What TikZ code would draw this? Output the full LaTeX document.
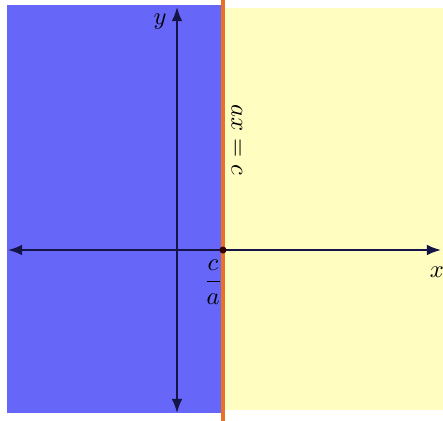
\documentclass[tikz,border=0pt]{standalone}
\usepackage{amsmath}
\usetikzlibrary{calc, positioning}
\usetikzlibrary{arrows.meta}
\definecolor{halfblue}{RGB}{102,102,248}
\definecolor{halfyellow}{RGB}{255,253,192}
\definecolor{edgeorange}{RGB}{232,112,40}
\definecolor{axisnavy}{RGB}{20,20,70}

\begin{document}
\begin{tikzpicture}[x=0.03cm,y=-0.03cm,
  axisline/.style={axisnavy,line width=1.5pt,{Latex[length=12pt,width=9pt]}-{Latex[length=12pt,width=9pt]}},
  lab/.style={scale=2.1}]
\def\cpos{223}
\def\ypos{177}
\def\xaxis{250}
\useasboundingbox (0,0) rectangle (443,421);
\coordinate (O) at (\ypos,\xaxis);
\coordinate (V) at (\cpos,\xaxis);
\coordinate (XL) at (8,\xaxis);
\coordinate (XR) at (441,\xaxis);
\coordinate (YT) at (\ypos,7);
\coordinate (YB) at (\ypos,413);
% half planes
\fill[halfblue] (7,5) rectangle (\cpos,413);
\fill[halfyellow] (\cpos,8) rectangle (443,410);
% axes
\draw[axisline] (XL) -- (XR);
\draw[axisline] (YB) -- (YT);
% boundary line
\draw[edgeorange,line width=3.4pt] (\cpos,0) -- (\cpos,421);
\fill[black!80!red] (V) circle (3.5);
\node[lab,rotate=-90] (eq) at (237,140) {$ax=c$};
\node[lab] (ylab) at (160,22) {$y$};
\node[lab] (xlab) at (437,272) {$x$};
\node[lab] (frac) at (213,282) {$\dfrac{c}{a}$};
\end{tikzpicture}
\end{document}
